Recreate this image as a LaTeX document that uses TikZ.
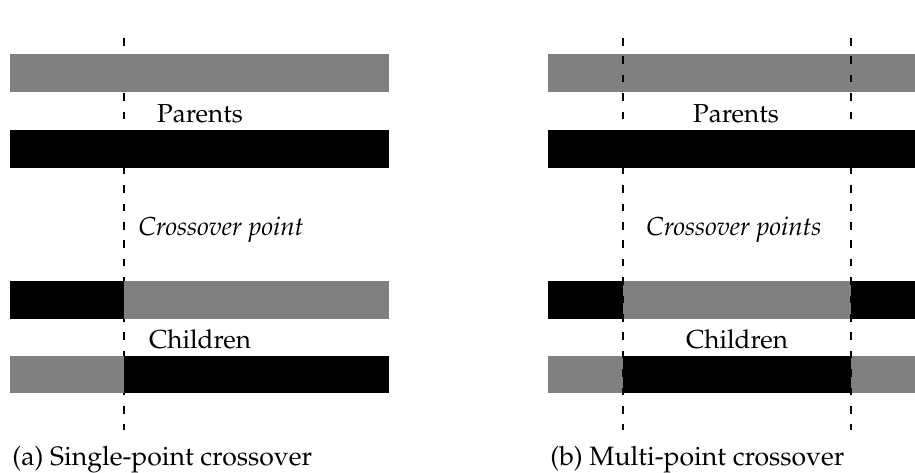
\documentclass[tikz,border=0pt]{standalone}
\usepackage[T1]{fontenc}
\usepackage{mathpazo}
\usepackage{tikz}
\usetikzlibrary{positioning}
\definecolor{gris}{RGB}{128,128,128}
\tikzset{
  gen/.style={fill=gris, draw=none},
  gennegro/.style={fill=black, draw=none},
  corte/.style={draw=black, line width=0.55pt, dash pattern=on 3.8pt off 5.4pt, dash phase=0pt},
  et/.style={font=\fontsize{13}{15}\selectfont, inner sep=0pt, anchor=base},
  pie/.style={font=\fontsize{13.3}{15}\selectfont, inner sep=0pt, anchor=base west},
}

\begin{document}
\begin{tikzpicture}[x=0.5pt, y=-0.5pt]
  \useasboundingbox (0,0) rectangle (915,472);

  % --- (a) un punto de corte
  \coordinate (ca1) at (124,38);
  \coordinate (ca2) at (124,430);
  \draw[corte] (ca1) -- (ca2);
  \fill[gen] (10,54) rectangle (389,92);
  \fill[gennegro] (10,130) rectangle (389,168);
  \fill[gennegro] (10,281) rectangle (124,319);
  \fill[gen] (124,281) rectangle (389,319);
  \fill[gen] (10,356) rectangle (124,393);
  \fill[gennegro] (124,356) rectangle (389,393);
  \node[et] (pa) at (200,122) {Parents};
  \node[et] (xa) at (221,235) {\itshape Crossover point};
  \node[et] (ha) at (200,348) {Children};
  \node[pie] (capa) at (12,465) {(a) Single-point crossover};

  % --- (b) varios puntos de corte
  \fill[gen] (548,54) rectangle (915,92);
  \fill[gennegro] (548,130) rectangle (915,168);
  \fill[gennegro] (548,281) rectangle (623,319);
  \fill[gen] (623,281) rectangle (851,319);
  \fill[gennegro] (851,281) rectangle (915,319);
  \fill[gen] (548,356) rectangle (623,393);
  \fill[gennegro] (623,356) rectangle (851,393);
  \fill[gen] (851,356) rectangle (915,393);
  \coordinate (cb1) at (623,38);
  \coordinate (cb2) at (623,430);
  \coordinate (cb3) at (851,38);
  \coordinate (cb4) at (851,430);
  \draw[corte] (cb1) -- (cb2);
  \draw[corte] (cb3) -- (cb4);
  \node[et] (pb) at (736,122) {Parents};
  \node[et] (xb) at (734,235) {\itshape Crossover points};
  \node[et] (hb) at (737,348) {Children};
  \node[pie] (capb) at (550,465) {(b) Multi-point crossover};
\end{tikzpicture}
\end{document}
